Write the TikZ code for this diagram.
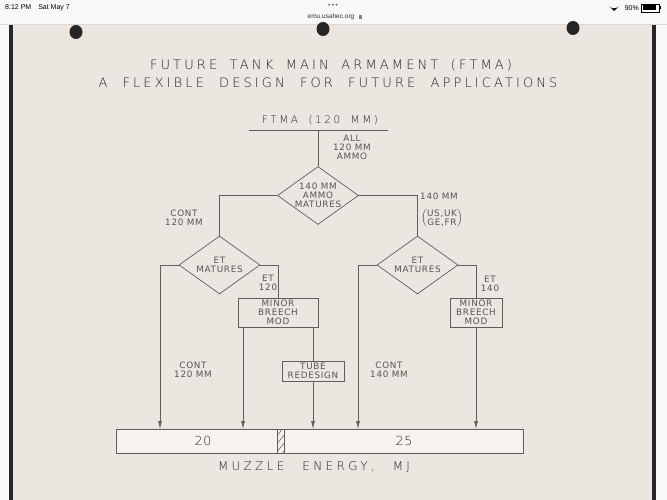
\documentclass[tikz,border=0pt]{standalone}
\usepackage{fontspec}
\usetikzlibrary{shapes.geometric,arrows.meta}
\setmainfont{DejaVu Sans}
\newfontfamily\labf[LetterSpace=8]{DejaVu Sans}
\newfontfamily\titf[LetterSpace=24]{DejaVu Sans ExtraLight}
\newfontfamily\mzf[LetterSpace=28]{DejaVu Sans ExtraLight}
\newfontfamily\numf[LetterSpace=6]{DejaVu Sans ExtraLight}
\newfontfamily\uif{Liberation Sans}
\definecolor{ink}{HTML}{555555}
\definecolor{tink}{HTML}{262626}
\definecolor{lin}{HTML}{5E5E5E}
\definecolor{paper}{HTML}{EBE6DF}
\definecolor{bar}{HTML}{F8F8F8}
\tikzset{
  txt/.style={text=ink, font=\labf\fontsize{8.8}{9}\selectfont, align=center, inner sep=0pt},
  big/.style={text=tink, font=\titf\fontsize{13}{14}\selectfont, inner sep=0pt},
  dia/.style={diamond, draw=lin, line width=0.7pt, minimum width=81pt, minimum height=58pt, inner sep=0pt},
  boxn/.style={draw=lin, line width=0.7pt, inner sep=0pt},
  con/.style={draw=lin, line width=0.7pt},
  arr/.style={con, -{Latex[length=8pt,width=4pt]}},
  ui/.style={font=\uif\fontsize{7}{8}\selectfont, inner sep=0pt, text=black}
}
\begin{document}
\begin{tikzpicture}[x=1pt,y=-1pt]
\useasboundingbox (0,0) rectangle (667,500);
% screen and page
\fill[bar] (0,0) rectangle (667,500);
\fill[paper] (12,24) rectangle (654,500);
\fill[black!85] (9,24) rectangle (13,500);
\fill[black!85] (652,24) rectangle (656,500);
\draw[black!15, line width=0.4pt] (0,24) -- (667,24);
% status bar
\node[ui, anchor=west] (clock) at (5,8) {8:12 PM\quad Sat May 7};
\node[ui, text=black!60] (dots) at (333,6) {\textbullet\,\textbullet\,\textbullet};
\node[ui, text=black!80, font=\uif\fontsize{6.5}{7}\selectfont] (url) at (331,17) {emu.usahec.org};
\fill[black!50] (359,15) rectangle (362,19);
\draw[black!50, line width=0.5pt] (359.6,15) arc[start angle=180, end angle=360, radius=0.9pt];
\fill (614,11) -- ++(-4.5,-4.5) arc[start angle=-135, end angle=-45, radius=6.36pt] -- cycle;
\node[ui, anchor=east] (batt) at (639,8) {90\%};
\draw[line width=0.5pt] (641,4) rectangle (659,12);
\fill (642.5,5.5) rectangle (656,10.5);
\fill (659.5,6.5) rectangle (661,9.5);
% binder holes
\fill[black!85] (76,32) circle[x radius=6.5pt, y radius=7pt];
\fill[black!85] (323,29) circle[x radius=6.5pt, y radius=7pt];
\fill[black!85] (573,28) circle[x radius=6.5pt, y radius=7pt];
% titles
\node[big] (t1) at (331,65) {\makebox[362pt][s]{FUTURE TANK MAIN ARMAMENT (FTMA)}};
\node[big] (t2) at (328,83) {\makebox[459pt][s]{A FLEXIBLE DESIGN FOR FUTURE APPLICATIONS}};
\node[big, font=\titf\fontsize{10.5}{12}\selectfont] (ftma) at (320,120) {\makebox[116pt][s]{FTMA (120 MM)}};
\coordinate (ul1) at (249,130);
\coordinate (ul2) at (388,130);
\coordinate (top) at (318,130);
\draw[con] (ul1) -- (ul2);
% decision nodes
\node[dia] (d1) at (318,195.5) {};
\node[dia] (d2) at (219.5,265) {};
\node[dia] (d3) at (417.5,265) {};
\node[txt] (d1t) at (d1) {140 MM\\AMMO\\MATURES};
\node[txt] (d2t) at (219.5,265) {ET\\MATURES};
\node[txt] (d3t) at (417.5,265) {ET\\MATURES};
% boxes
\node[boxn, minimum width=80pt, minimum height=29pt] (b1) at (278,312.5) {};
\node[txt] (b1t) at (b1) {MINOR\\BREECH\\MOD};
\node[boxn, minimum width=52pt, minimum height=29pt] (b2) at (476,312.5) {};
\node[txt] (b2t) at (b2) {MINOR\\BREECH\\MOD};
\node[boxn, minimum width=62pt, minimum height=20pt] (tb) at (313,371) {};
\node[txt] (tbt) at (tb) {TUBE\\REDESIGN};
% energy bar
\node[boxn, fill=paper!50!white, minimum width=407pt, minimum height=24pt, anchor=north west] (ebar) at (116,429) {};
\draw[con] (277,429) rectangle (284,453);
\begin{scope}
\clip (277,429) rectangle (284,453);
\foreach \yy in {436,444,452,460} \draw[con, line width=0.5pt] (277,\yy) -- (284,\yy-9);
\end{scope}
\node[big, font=\numf\fontsize{12.5}{12}\selectfont] (e20) at (203,441) {20};
\node[big, font=\numf\fontsize{12.5}{12}\selectfont] (e25) at (404,441) {25};
\node[big, font=\mzf\fontsize{12}{12}\selectfont] (mz) at (314,467) {\makebox[192pt][s]{MUZZLE ENERGY, MJ}};
\coordinate (a1) at (160,429);
\coordinate (a2) at (243,429);
\coordinate (a3) at (313,429);
\coordinate (a4) at (358,429);
\coordinate (a5) at (476,429);
% connectors
\draw[con] (top) -- (d1.north);
\draw[con] (d1.west) -| (d2.north);
\draw[con] (d1.east) -| (d3.north);
\draw[arr] (d2.west) -| (a1);
\draw[con] (d2.east) -| (b1.north);
\draw[arr] (b1.south -| a2) -- (a2);
\draw[con] (b1.south -| tb.north) -- (tb.north);
\draw[arr] (tb.south) -- (a3);
\draw[arr] (d3.west) -| (a4);
\draw[con] (d3.east) -| (b2.north);
\draw[arr] (b2.south) -- (a5);
% labels
\node[txt] (lall) at (352,147.5) {ALL\\120 MM\\AMMO};
\node[txt] (lc1) at (184,217.5) {CONT\\120 MM};
\node[txt, anchor=west] (l140) at (420,196) {140 MM};
\node[txt] (lcty) at (442,218.5) {$\left(\vcenter{\hbox{\def\arraystretch{0.72}\begin{tabular}{@{}c@{}}US,UK\\GE,FR\end{tabular}}}\right)$};
\node[txt] (let1) at (268,283) {ET\\120};
\node[txt] (let2) at (490,283.5) {ET\\140};
\node[txt] (lc2) at (193,370) {CONT\\120 MM};
\node[txt] (lc3) at (389,369.5) {CONT\\140 MM};
\end{tikzpicture}
\end{document}
